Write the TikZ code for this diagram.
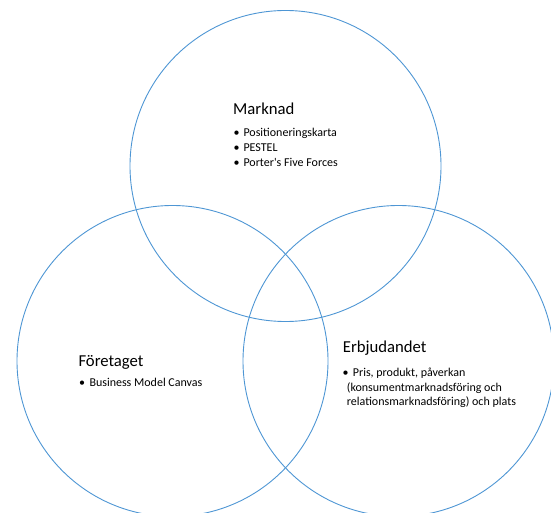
\documentclass[tikz,border=0pt]{standalone}
\usepackage{fontspec}
\setmainfont{Carlito}
\definecolor{vennblue}{RGB}{78,150,212}
\begin{document}
\begin{tikzpicture}[x=1pt,y=-1pt,
  venn/.style={circle,draw=vennblue,line width=0.9pt,minimum size=311pt,inner sep=0pt},
  ttl/.style={anchor=base west,inner sep=0pt,font=\fontsize{16.7}{20}\selectfont},
  itm/.style={anchor=base west,inner sep=0pt,font=\fontsize{12}{14.4}\selectfont}]
\useasboundingbox (0,0) rectangle (551,513);
\clip (0,0) rectangle (551,513);
\node[venn] (top) at (285.5,166) {};
\node[venn] (left) at (172.5,361) {};
\node[venn] (right) at (398.5,361) {};
% Marknad
\node[ttl] (t1) at (233,114.3) {Marknad};
\node[itm] (b1a) at (233.5,136.7) {•};
\node[itm] (i1a) at (243.3,136.7) {Positioneringskarta};
\node[itm] (b1b) at (233.5,151.7) {•};
\node[itm] (i1b) at (243.3,151.7) {PESTEL};
\node[itm] (b1c) at (233.5,166.7) {•};
\node[itm] (i1c) at (243.3,166.7) {Porter\textquotesingle s Five Forces};
% Företaget
\node[ttl] (t2) at (78.3,366) {Företaget};
\node[itm] (b2a) at (79,386.7) {•};
\node[itm] (i2a) at (89.3,386.7) {Business Model Canvas};
% Erbjudandet
\node[ttl] (t3) at (342.7,352.7) {Erbjudandet};
\node[itm] (b3a) at (342.5,376.7) {•};
\node[itm] (i3a) at (352.7,376.7) {Pris, produkt, påverkan};
\node[itm] (i3b) at (346.7,391) {(konsumentmarknadsföring och};
\node[itm] (i3c) at (346.7,405) {relationsmarknadsföring) och plats};
\end{tikzpicture}
\end{document}
